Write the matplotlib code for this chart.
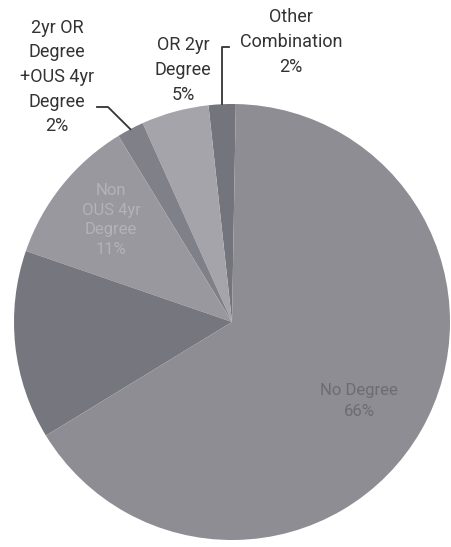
import numpy as np
import matplotlib.pyplot as plt

# degree mix, counter-clockwise from the top
labels = ["Other\nCombination", "OR 2yr\nDegree", "2yr OR\nDegree\n+OUS 4yr\nDegree",
          "Non\nOUS 4yr\nDegree", "", "No Degree"]
shares = [2, 5, 2, 11, 14, 66]
colors = ["#74747c", "#a4a4aa", "#808088", "#98989e", "#76767e", "#8d8d93"]

W, H = 451, 547
cx, cy, R = 232, H - 322, 218
start = 89

plt.rcParams['font.family'] = ['Roboto', 'DejaVu Sans']

fig = plt.figure(figsize=(W / 100, H / 100), dpi=100)
ax = fig.add_axes([0, 0, 1, 1])

ax.pie(shares, colors=colors, startangle=start, counterclock=True,
       center=(cx, cy), radius=R, frame=True,
       wedgeprops=dict(linewidth=0))
ax.set_xlim(0, W)
ax.set_ylim(0, H)
ax.set_aspect('equal')
ax.axis('off')

edges = start + 360 * np.cumsum([0] + shares) / sum(shares)
mids = (edges[:-1] + edges[1:]) / 2


def rim(i):
    a = np.radians(mids[i])
    return cx + R * np.cos(a), cy + R * np.sin(a)


ink = '#333333'
tkw = dict(ha='center', va='center', fontsize=13, linespacing=1.47, color=ink)

# outside labels with leaders
x0, y0 = rim(0)
ax.plot([x0, x0, x0 + 7], [y0, H - 47, H - 47], color=ink, lw=1.3)
ax.text(291, H - 42, f"{labels[0]}\n{shares[0]}%", **tkw)

ax.text(183, H - 70, f"{labels[1]}\n{shares[1]}%", **tkw)

x2, y2 = rim(2)
ax.plot([x2, 108, 97], [y2, H - 107, H - 107], color=ink, lw=1.3)
ax.text(57, H - 77, f"{labels[2]}\n{shares[2]}%", **tkw)

# inside labels
ax.text(111, H - 220, f"{labels[3]}\n{shares[3]}%", color='#b2b2b8',
        ha='center', va='center', fontsize=12, linespacing=1.4)
ax.text(359, H - 401, f"{labels[5]}\n{shares[5]}%", color='#6c6c72',
        ha='center', va='center', fontsize=12, linespacing=1.5)

fig.savefig("out.png", dpi=100, facecolor='white')
